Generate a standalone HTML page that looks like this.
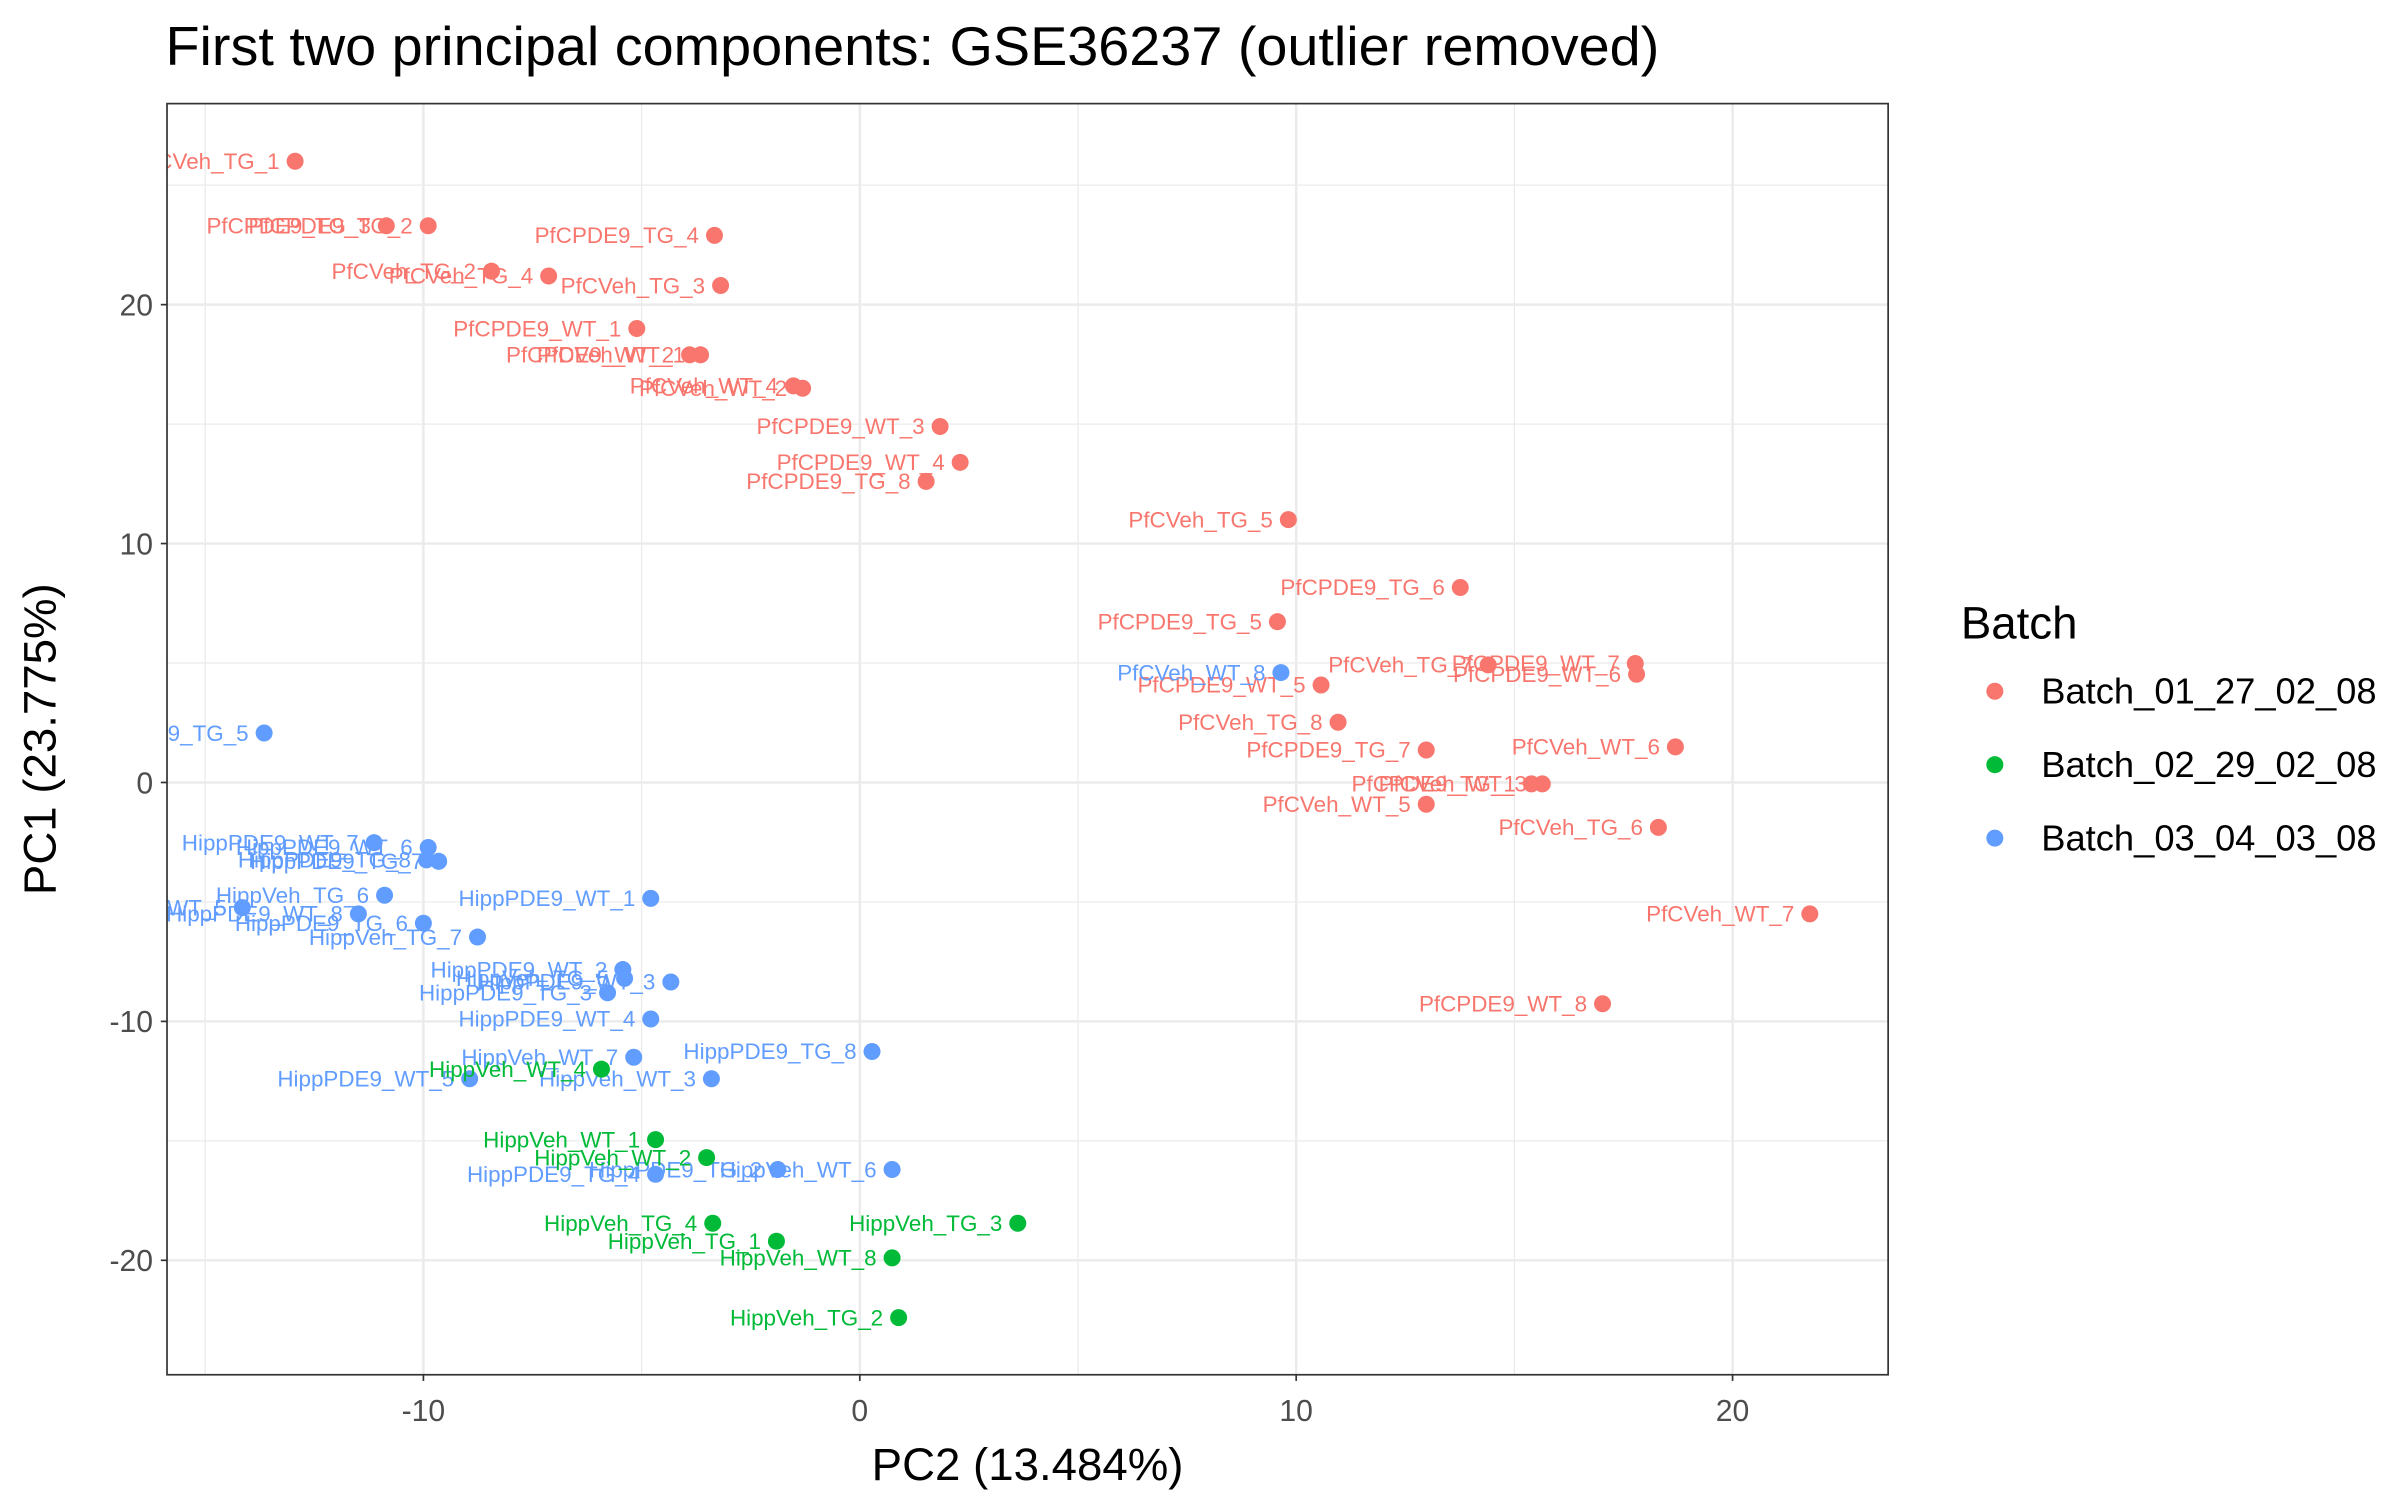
<!DOCTYPE html>
<html><head><meta charset="utf-8"><style>
html,body{margin:0;padding:0;background:#fff;}
svg{display:block;font-family:"Liberation Sans",Arial,sans-serif;}
</style></head><body>
<svg id="chart" width="2400" height="1500" viewBox="0 0 1552 970" xmlns="http://www.w3.org/2000/svg">
<defs><clipPath id="pc"><rect x="108" y="67" width="1113" height="822"/></clipPath></defs>
<text x="107" y="42" font-size="35.5" fill="#000" textLength="966" lengthAdjust="spacingAndGlyphs">First two principal components: GSE36237 (outlier removed)</text>
<rect x="108" y="67" width="1113" height="822" fill="#fff"/>
<g id="grid"></g>
<g id="pts" clip-path="url(#pc)"></g>
<rect x="108" y="67" width="1113" height="822" fill="none" stroke="#333" stroke-width="1.1"/>
<g id="axes"></g>
<text x="664.5" y="957" font-size="29.5" text-anchor="middle">PC2 (13.484%)</text>
<text transform="translate(36,478) rotate(-90)" font-size="29.5" text-anchor="middle">PC1 (23.775%)</text>
<g>
<text x="1268" y="413" font-size="29.5">Batch</text>
<g id="leg"></g>
</g>
<script>
const xTicks=[-10,0,10,20];
const yTicks=[-20,-10,0,10,20];
const xMinor=[-15,-5,5,15];
const yMinor=[-15,-5,5,15,25];
const batches=["Batch_01_27_02_08","Batch_02_29_02_08","Batch_03_04_03_08"];
const colors=["#F8766D","#00BA38","#619CFF"];
const names=["PfCVeh_TG_1","PfCPDE9_TG_3","PfCPDE9_TG_2","PfCPDE9_TG_4","PfCVeh_TG_2","PfCVeh_TG_4","PfCVeh_TG_3","PfCPDE9_WT_1","PfCPDE9_WT_2","PfCVeh_WT_1","PfCVeh_WT_4","PfCVeh_WT_2","PfCPDE9_WT_3","PfCPDE9_WT_4","PfCPDE9_TG_8","PfCVeh_TG_5","PfCPDE9_TG_6","PfCPDE9_TG_5","PfCPDE9_WT_5","PfCVeh_TG_7","PfCPDE9_WT_7","PfCPDE9_WT_6","PfCVeh_TG_8","PfCPDE9_TG_7","PfCVeh_WT_6","PfCPDE9_TG_1","PfCVeh_WT_3","PfCVeh_WT_5","PfCVeh_TG_6","PfCVeh_WT_7","PfCPDE9_WT_8",
"HippPDE9_TG_5","PfCVeh_WT_8","HippPDE9_WT_7","HippPDE9_WT_6","HippPDE9_TG_8","HippPDE9_TG_7","HippVeh_TG_6","HippVeh_WT_5","HippPDE9_WT_8","HippPDE9_TG_6","HippVeh_TG_7","HippPDE9_WT_1","HippPDE9_WT_2","HippVeh_TG_5","HippPDE9_WT_3","HippPDE9_TG_3","HippPDE9_WT_4","HippPDE9_TG_8b","HippVeh_WT_7","HippPDE9_WT_5","HippVeh_WT_3","HippPDE9_TG_4","HippPDE9_TG_2","HippVeh_WT_6",
"HippVeh_WT_4","HippVeh_WT_1","HippVeh_WT_2","HippVeh_TG_4","HippVeh_TG_1","HippVeh_TG_3","HippVeh_WT_8","HippVeh_TG_2"];
const pc2=[-12.94,-10.85,-9.89,-3.33,-8.44,-7.13,-3.19,-5.11,-3.90,-3.65,-1.52,-1.31,1.84,2.30,1.52,9.82,13.76,9.57,10.57,14.40,17.77,17.80,10.96,12.98,18.69,15.39,15.64,12.98,18.30,21.77,17.02,
-13.65,9.65,-11.13,-9.89,-9.93,-9.65,-10.89,-14.15,-11.49,-10.0,-8.76,-4.79,-5.43,-5.39,-4.33,-5.78,-4.79,0.28,-5.18,-8.94,-3.40,-4.68,-1.88,0.74,
-5.92,-4.68,-3.51,-3.37,-1.91,3.62,0.74,0.89];
const pc1=[26.0,23.3,23.3,22.9,21.4,21.2,20.8,19.0,17.9,17.9,16.6,16.5,14.9,13.4,12.6,11.0,8.16,6.73,4.08,4.92,4.98,4.53,2.52,1.36,1.49,-0.06,-0.06,-0.91,-1.88,-5.50,-9.26,
2.07,4.6,-2.52,-2.72,-3.24,-3.30,-4.72,-5.24,-5.50,-5.89,-6.47,-4.85,-7.83,-8.2,-8.35,-8.8,-9.9,-11.26,-11.5,-12.4,-12.4,-16.4,-16.2,-16.2,
-12.0,-14.95,-15.7,-18.45,-19.2,-18.45,-19.9,-22.4];
const batchIdx=[0,0,0,0,0,0,0,0,0,0,0,0,0,0,0,0,0,0,0,0,0,0,0,0,0,0,0,0,0,0,0,
2,2,2,2,2,2,2,2,2,2,2,2,2,2,2,2,2,2,2,2,2,2,2,2,
1,1,1,1,1,1,1,1];
const NS="http://www.w3.org/2000/svg";
const X=v=>556+v*28.22, Y=v=>506-v*15.45;
function mk(t,a,p){const e=document.createElementNS(NS,t);for(const k in a)e.setAttribute(k,a[k]);p.appendChild(e);return e;}
const grid=document.getElementById('grid'),axes=document.getElementById('axes'),pts=document.getElementById('pts'),leg=document.getElementById('leg');
xMinor.forEach(v=>{const l=mk('line',{x1:X(v),x2:X(v),y1:67,y2:889,stroke:'#ebebeb','stroke-width':0.8},grid);

});
yMinor.forEach(v=>{const l=mk('line',{x1:108,x2:1221,y1:Y(v),y2:Y(v),stroke:'#ebebeb','stroke-width':0.8},grid);

});
xTicks.forEach(v=>{const l=mk('line',{x1:X(v),x2:X(v),y1:67,y2:889,stroke:'#ebebeb','stroke-width':1.6},grid);


const t=mk('line',{x1:X(v),x2:X(v),y1:889,y2:893,stroke:'#333','stroke-width':1.1},axes);


const tx=mk('text',{x:X(v),y:919,'font-size':19.5,fill:'#4d4d4d','text-anchor':'middle'},axes);tx.textContent=v;

});
yTicks.forEach(v=>{const l=mk('line',{x1:108,x2:1221,y1:Y(v),y2:Y(v),stroke:'#ebebeb','stroke-width':1.6},grid);


const t=mk('line',{x1:104,x2:108,y1:Y(v),y2:Y(v),stroke:'#333','stroke-width':1.1},axes);


const tx=mk('text',{x:99,y:Y(v)+7,'font-size':19.5,fill:'#4d4d4d','text-anchor':'end'},axes);tx.textContent=v;

});
names.forEach((n,i)=>{const c=colors[batchIdx[i]];const x=X(pc2[i]),y=Y(pc1[i]);
const d=mk('circle',{cx:x,cy:y,r:5.5,fill:c},pts);


const t=mk('text',{x:x-10,y:y+5,'font-size':14.5,fill:c,'text-anchor':'end'},pts);t.textContent=n.replace(/b$/,'');

});
batches.forEach((b,i)=>{const y=447+i*47.5;
const d=mk('circle',{cx:1290,cy:y,r:5.5,fill:colors[i]},leg);


const t=mk('text',{x:1320,y:y+8,'font-size':23.5},leg);t.textContent=b;

});
</script>
</svg>
</body></html>
